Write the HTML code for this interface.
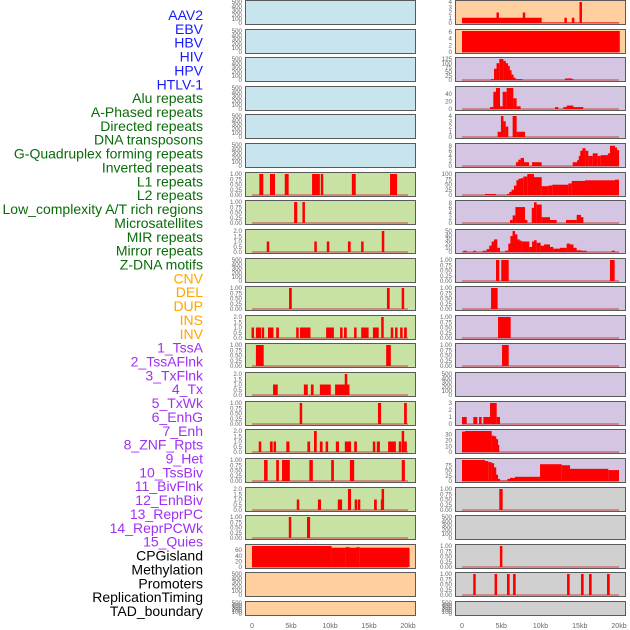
<!DOCTYPE html>
<html><head><meta charset="utf-8"><style>
html,body{margin:0;padding:0;background:#fff;}
svg{display:block;font-family:"Liberation Sans",sans-serif;}
</style></head><body>
<svg id="chart" width="630" height="630" viewBox="0 0 630 630" xmlns="http://www.w3.org/2000/svg"></svg>
<script>
const trackLabels = ["AAV2","EBV","HBV","HIV","HPV","HTLV-1","Alu repeats","A-Phased repeats","Directed repeats","DNA transposons","G-Quadruplex forming repeats","Inverted repeats","L1 repeats","L2 repeats","Low_complexity A/T rich regions","Microsatellites","MIR repeats","Mirror repeats","Z-DNA motifs","CNV","DEL","DUP","INS","INV","1_TssA","2_TssAFlnk","3_TxFlnk","4_Tx","5_TxWk","6_EnhG","7_Enh","8_ZNF_Rpts","9_Het","10_TssBiv","11_BivFlnk","12_EnhBiv","13_ReprPC","14_ReprPCWk","15_Quies","CPGisland","Methylation","Promoters","ReplicationTiming","TAD_boundary"];
const labelGroups = ["v","v","v","v","v","v","r","r","r","r","r","r","r","r","r","r","r","r","r","s","s","s","s","s","c","c","c","c","c","c","c","c","c","c","c","c","c","c","c","o","o","o","o","o"];
const groupColors = {v:"#1a1aff",r:"#0a6b0a",s:"#ffa500",c:"#a030f0",o:"#000000"};
const xTickValues = [0,5,10,15,20];
const xTickLabels = ["0","5kb","10kb","15kb","20kb"];
const panelBg = ["b","b","b","b","b","b","g","g","g","g","g","g","g","g","g","g","g","g","g","o","o","o",
                 "o","o","p","p","p","p","p","p","p","p","p","p","p","p","p","p","p","k","k","k","k","k"];
const bgColors = {b:"#c8e4ec",g:"#c8e2a4",o:"#ffcf9f",p:"#d4c6e2",k:"#d0d0d0"};
const U=[0,0.25,0.5,0.75,1], E=[0,100,200,300,400,500], T2=[0,0.5,1,1.5,2];
const panelTicks = [E,E,E,E,E,E,U,U,T2,E,U,T2,U,T2,U,T2,U,T2,U,[0,20,40,60],E,E,
  [0,1,2,3,4],[0,2,4,6],[0,25,50,75,100,125],[0,20,40],[0,1,2,3,4],[0,2,4,6,8],[0,25,50,75,100],[0,2,4,6,8],[0,10,20,30,40,50],U,U,U,U,E,[0,1,2,3],[0,10,20,30],[0,25,50,75],U,E,U,U,E];
const panelMax = [500,500,500,500,500,500,1,1,2,500,1,2,1,2,1,2,1,2,1,74,500,500,
  4,6.2,125,55,4,8.3,100,8.3,50,1,1,1,1,500,3,36,100,1,500,1,1,500];
const panelSegs = [
 [],[],[],[],[],[],
 [[0.94,1.45,1],[2.3,2.95,1],[4.2,4.7,1],[7.7,8.7,1],[8.85,9.1,1],[12.8,13.3,1],[17.7,18.6,1]],
 [[5.4,5.8,1],[6.5,6.75,1]],
 [[1.9,2.2,1],[8.0,8.3,1],[9.6,9.9,1],[12.3,12.65,1],[14.0,14.3,1],[16.7,16.9,2]],
 [],
 [[4.75,5.1,1],[17.3,17.65,1],[19.2,19.5,1]],
 [[0,0.2,1],[0.5,1.15,1],[1.3,1.5,1],[2.05,2.75,1],[3.1,3.45,1],[5.7,5.95,1],[6.15,7.5,1],[9.5,10.5,1],[11.3,11.6,1],[11.8,12.15,1],[13.1,13.4,1],[14.0,14.95,1],[15.5,16.25,1],[16.6,16.85,2],[17.8,18.1,1],[18.4,18.6,1],[19.0,19.3,1],[19.5,19.85,1]],
 [[0.5,1.5,1],[17.2,17.8,1]],
 [[2.7,3.3,1],[6.65,7.15,1],[7.55,7.9,1],[8.7,10.1,1],[10.65,12.5,1],[11.9,12.2,2]],
 [[6.15,6.4,1],[16.15,16.55,1],[19.5,19.85,1]],
 [[0.9,1.15,1],[2.3,2.65,1],[2.8,3.05,1],[4.4,4.8,1],[7.1,7.45,1],[7.95,8.3,2],[8.7,9.05,1],[9.5,9.7,1],[10.75,11.15,1],[11.9,12.7,1],[13.1,13.45,1],[15.5,15.8,1],[16.0,16.4,1],[17.45,18.45,1],[18.85,19.1,1],[19.2,19.5,2],[19.5,19.85,1]],
 [[1.55,2.0,1],[3.1,3.45,1],[3.85,4.85,1],[7.35,7.8,1],[10.15,10.5,1],[12.55,13.1,1],[19.2,19.6,1]],
 [[5.75,6.05,1],[8.45,8.85,1],[11.0,11.55,1],[12.3,12.7,2],[13.2,13.45,1],[13.6,13.85,1],[15.65,16.0,1],[16.55,16.8,1],[16.65,16.9,2]],
 [[4.75,5.0,1],[7.05,7.45,1]],
 [[0,10.2,78],[10.2,12.0,68],[12.0,12.5,70],[12.5,13.4,68],[13.4,13.8,70],[13.8,20.2,68]],
 [],[],
 [[0,10.15,1],[4.45,4.65,2],[7.8,8.0,2],[10.15,20,0.1],[13.1,13.3,1],[14.05,14.25,1],[15.0,15.25,4]],
 [[0,20.1,6.2]],
 [[3.7,4.08,5],[4.08,4.4,67],[4.4,4.75,100],[4.75,5.27,125],[5.27,5.56,114],[5.56,5.82,100],[5.82,6.03,84],[6.03,6.28,58],[6.28,6.54,32],[6.54,6.8,14],[6.8,7.73,5],[13.12,13.55,9],[13.55,13.97,10],[13.97,14.2,5]],
 [[3.57,3.99,5],[3.99,4.33,45],[4.33,4.84,57],[4.84,5.18,7],[5.18,5.69,45],[5.69,6.54,57],[6.54,6.96,28],[6.96,7.47,7],[11.85,12.27,5],[12.9,13.33,5],[13.33,14.2,9],[14.2,15.45,5]],
 [[4.54,4.97,1],[4.97,5.27,4],[5.27,5.56,3],[5.56,5.9,2],[6.45,6.96,4],[6.96,8.03,1]],
 [[6.88,7.18,1.5],[7.18,7.47,2.5],[7.47,7.9,3.2],[7.9,8.54,1.5],[8.92,10.15,1.5],[14.1,14.7,1.5],[14.7,14.95,2.3],[14.95,15.12,4],[15.12,15.33,6],[15.33,15.75,7],[15.75,16.09,6],[16.09,16.65,4],[16.65,17.28,5],[17.28,17.67,4],[17.67,18.64,4.3],[18.64,18.85,5],[18.85,19.49,8],[19.49,19.7,7.3],[19.7,20,6.3]],
 [[2.93,4.33,5],[5.78,6.03,5],[6.03,6.33,15],[6.33,6.62,25],[6.62,6.96,45],[6.96,7.22,70],[7.22,7.47,77],[7.47,7.81,80],[7.81,8.32,88],[8.32,9.17,100],[9.17,10.15,85],[10.15,11.0,42],[11.0,11.5,45],[11.5,13.55,49],[13.55,13.97,55],[13.97,15.67,67],[15.67,19.49,70],[19.49,20,73]],
 [[6.11,6.45,1.2],[6.45,6.8,3],[6.8,8.03,6.3],[8.03,8.32,1.2],[8.92,9.17,6],[9.17,9.51,8.2],[9.51,10.15,7.3],[10.15,11.21,2.3],[11.21,12.06,1.2],[13.25,14.61,1.2],[14.61,15.16,3.2],[15.16,15.45,2.3]],
 [[0.17,0.6,3],[1.44,1.78,3],[2.63,3.14,3],[3.14,3.48,7],[3.48,3.78,15],[3.78,4.08,25],[4.08,4.5,30],[4.5,4.84,10],[5.48,5.9,3],[5.9,6.2,20],[6.2,6.45,38],[6.45,6.75,50],[6.75,7.05,42],[7.05,7.3,30],[7.3,7.6,27],[7.6,8.58,25],[8.58,9.0,12],[9.0,9.17,25],[9.17,9.51,28],[9.51,10.02,22],[10.02,10.45,15],[10.45,11.21,18],[11.21,11.63,12],[11.63,12.48,8],[12.48,13.33,10],[13.33,13.76,20],[13.76,14.2,18],[14.2,14.61,10],[14.61,15.24,4],[15.24,15.88,3],[19.07,19.49,3]],
 [[4.33,4.75,1],[5.0,5.95,1],[18.85,19.45,1]],
 [[3.7,4.54,1]],
 [[4.59,6.2,1]],
 [[5.1,5.95,1]],
 [],
 [[0,0.6,1],[1.44,1.95,1],[2.17,2.5,1],[2.72,3.57,1],[3.57,4.42,3],[4.42,4.84,1]],
 [[0,0.38,35],[0.38,3.78,36],[3.78,4.08,28],[4.08,4.33,27],[4.33,4.54,22],[4.54,4.63,12]],
 [[0,2.93,100],[2.93,3.35,95],[3.35,3.78,90],[3.78,4.08,85],[4.08,4.33,65],[4.33,4.54,30],[4.54,4.84,10],[4.84,5.78,2],[5.78,6.11,10],[6.11,6.75,15],[6.75,9.94,20],[9.94,12.7,80],[12.7,13.76,75],[13.76,18.64,58],[18.64,20,52]],
 [[4.75,5.18,1]],
 [],
 [[4.84,5.13,1]],
 [[1.44,1.74,1],[4.2,4.42,1],[5.73,6.07,1],[6.5,6.84,1],[13.38,13.72,1],[15.16,15.5,1],[16.18,16.52,1],[18.47,18.82,1]],
 []
];

const NS="http://www.w3.org/2000/svg";
const svg=document.getElementById('chart');
function mk(tag,attrs,parent){const e=document.createElementNS(NS,tag);for(const k in attrs)e.setAttribute(k,attrs[k]);(parent||svg).appendChild(e);return e;}
const cols=[{x0:245,x1:416,d0:252,d1:408},{x0:455,x1:626,d0:462,d1:619}];
function rowTop(i){return i===21?601:Math.round(i*28.62);}
function rowH(i){return i===21?15:25;}
function fmt(v,t){if(t===U)return v.toFixed(2);if(t===T2)return v.toFixed(1);return String(v);}

trackLabels.forEach((lab,i)=>{
  const t=mk('text',{x:203,y:20+i*13.86,'text-anchor':'end','font-size':14,fill:groupColors[labelGroups[i]]});
  
  
  t.textContent=lab;
});

for(let p=0;p<44;p++){
  const c=cols[p<22?0:1], r=p%22, top=rowTop(r), h=rowH(r), bot=top+h;
  const xs=kb=>c.d0+(kb/20)*(c.d1-c.d0);
  const yMax=panelMax[p], ys=v=>bot-2-Math.min(v,yMax)/yMax*(h-4);
  const g=mk('g',{});
  
  
  const bg=mk('rect',{x:c.x0+0.5,y:top+0.5,width:c.x1-c.x0-1,height:h-1,fill:bgColors[panelBg[p]],stroke:'none'},g);
  
  
  const segs=panelSegs[p];
  if(segs.length){
    const bl=mk('line',{x1:xs(0),x2:xs(20),y1:bot-2,y2:bot-2,stroke:'#c85a5a','stroke-width':1.5,opacity:0.8},g);
    
    
  }
  segs.forEach(s=>{
    const x1=xs(s[0]),x2=xs(s[1]),y=ys(s[2]);
    const w=Math.max(2.5,x2-x1);
    const b=mk('rect',{x:x1-(w-(x2-x1))/2,y:y,width:w,height:bot-2-y,fill:'#ff0000'},g);
    
    
  });
  const fr=mk('rect',{x:c.x0+0.5,y:top+0.5,width:c.x1-c.x0-1,height:h-1,fill:'none',stroke:'#5a5a5a','stroke-width':1},g);
  
  
  const ticks=panelTicks[p];
  ticks.forEach(v=>{
    const t=mk('text',{x:c.x0-3,y:ys(v)+2.2,'text-anchor':'end','font-size':6.2,fill:'#666'},g);
    
    
    t.textContent=fmt(v,ticks);
  });
}
cols.forEach(c=>{
  xTickValues.forEach((v,i)=>{
    const t=mk('text',{x:c.d0+(v/20)*(c.d1-c.d0),y:628,'text-anchor':'middle','font-size':7,fill:'#666'});
    
    
    t.textContent=xTickLabels[i];
  });
});
</script>
</body></html>
